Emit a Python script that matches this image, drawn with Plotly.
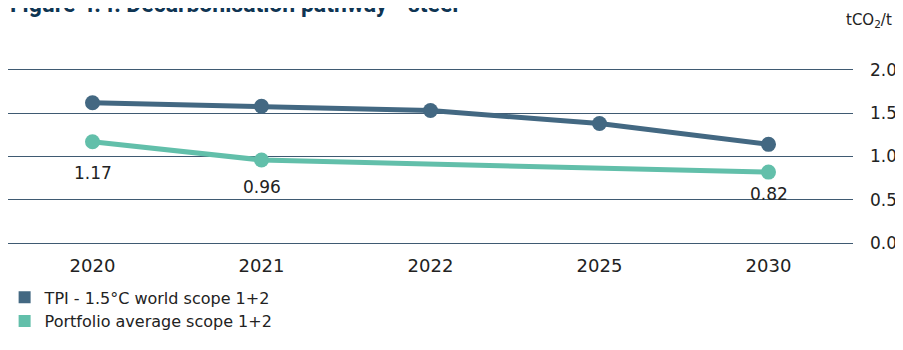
import plotly.graph_objects as go

years = ["2020", "2021", "2022", "2025", "2030"]
tpi = [1.62, 1.58, 1.53, 1.38, 1.14]
portfolio = [1.17, 0.96, None, None, 0.82]

tpi_name = "TPI - 1.5°C world scope 1+2"
port_name = "Portfolio average scope 1+2"
navy = "#436882"
teal = "#62bfaa"
font = "DejaVu Sans"

fig = go.Figure()
fig.add_trace(go.Scatter(
    x=years, y=tpi, name=tpi_name, mode="lines+markers",
    line=dict(color=navy, width=5), marker=dict(size=15, color=navy),
    showlegend=False,
))
fig.add_trace(go.Scatter(
    x=years, y=portfolio, name=port_name, mode="lines+markers",
    connectgaps=True,
    line=dict(color=teal, width=5), marker=dict(size=15, color=teal),
    showlegend=False,
))
# legend squares
for nm, c in [(tpi_name, navy), (port_name, teal)]:
    fig.add_trace(go.Scatter(
        x=[None], y=[None], name=nm, mode="markers",
        marker=dict(symbol="square", size=14, color=c),
    ))

# value labels sit under the portfolio points
label_shift = {0: -31, 1: -27, 4: -22}
for i, v in enumerate(portfolio):
    if v is None:
        continue
    fig.add_annotation(x=i, y=v, text=f"{v:.2f}", showarrow=False,
                       yshift=label_shift[i], font=dict(size=17, color="#222222", family=font))

fig.add_annotation(text="Figure 4.4: Decarbonisation pathway - steel", xref="paper", yref="paper",
                   x=0.0, y=1.0, yshift=64, xanchor="left", yanchor="middle", showarrow=False,
                   font=dict(size=23, color="#0f3553", family="Roboto", weight="bold"))
fig.add_annotation(text="tCO<sub>2</sub>/t", xref="paper", yref="paper",
                   x=1.0, xshift=41, y=1.0, yshift=48, xanchor="right", yanchor="middle",
                   showarrow=False, font=dict(size=15, color="#222222", family=font))

# page body has an 8px margin, so the figure is drawn 8px smaller
fig.update_layout(
    width=895, height=342,
    margin=dict(l=0, r=50, t=60, b=105, autoexpand=False),
    plot_bgcolor="white", paper_bgcolor="white",
    font=dict(family=font, size=17, color="#222222"),
    xaxis=dict(type="category", range=[-0.5, 4.5], showgrid=False, zeroline=False,
               ticks="", ticklabelstandoff=8, tickfont=dict(size=18)),
    yaxis=dict(range=[-0.02, 2.02], side="right", dtick=0.5, tickformat=".1f",
               gridcolor="#3f5a72", gridwidth=1, zeroline=False, ticks="",
               ticklabelstandoff=16, showline=False, automargin=False),
    legend=dict(x=-0.004, y=-0.20, xanchor="left", yanchor="top", orientation="v",
                font=dict(size=16, family=font), tracegroupgap=0, itemsizing="constant"),
)

fig.write_html("out.html")
